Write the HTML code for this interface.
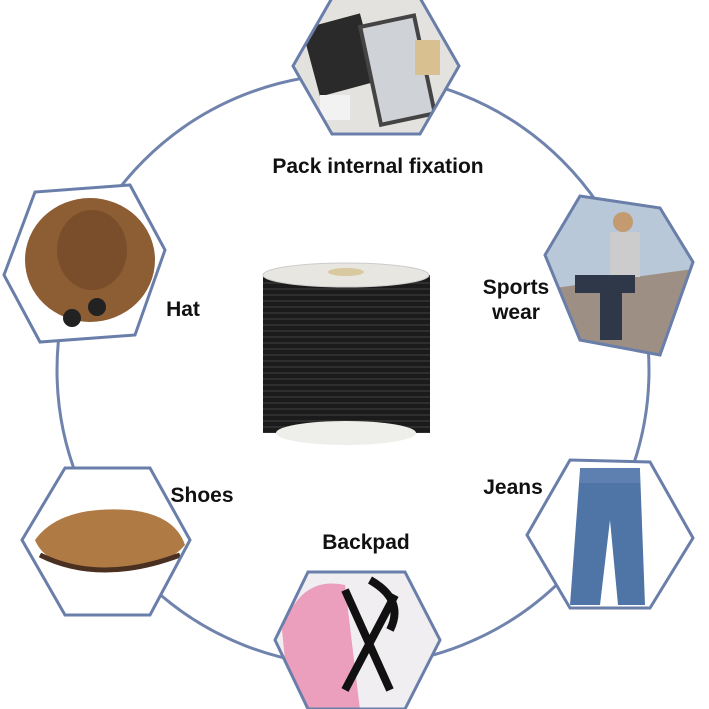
<!DOCTYPE html>
<html><head><meta charset="utf-8"><style>
html,body{margin:0;padding:0;background:#fff;}
svg{display:block}
text{font-family:"Liberation Sans",sans-serif;font-weight:bold;fill:#111;}
</style></head><body>
<svg width="709" height="709" viewBox="0 0 709 709" xmlns="http://www.w3.org/2000/svg">
<defs>
<pattern id="g" width="6" height="6" patternUnits="userSpaceOnUse"><rect width="6" height="2" fill="#555"/></pattern>
<clipPath id="c1"><polygon points="293,66 332,-2 420,-2 459,66 420,134 332,134"/></clipPath>
<clipPath id="c2"><polygon points="4,275 35,192 130,185 165,250 135,335 40,342"/></clipPath>
<clipPath id="c3"><polygon points="545,255 580,196 660,208 693,262 660,355 580,340"/></clipPath>
<clipPath id="c4"><polygon points="22,540 65,468 150,468 190,540 150,615 65,615"/></clipPath>
<clipPath id="c5"><polygon points="527,535 570,460 650,462 693,538 650,608 570,608"/></clipPath>
<clipPath id="c6"><polygon points="275,640 308,572 405,572 440,640 405,709 308,709"/></clipPath>
</defs>
<rect width="709" height="709" fill="#fff"/>
<circle cx="353" cy="370" r="296" fill="none" stroke="#7083ad" stroke-width="3"/>

<g clip-path="url(#c1)">
<rect x="280" y="-5" width="190" height="145" fill="#e4e2de"/>
<rect x="310" y="20" width="60" height="70" fill="#2a2a2a" transform="rotate(-15 340 55)"/>
<rect x="370" y="20" width="55" height="100" fill="#cfd2d6" stroke="#444" stroke-width="4" transform="rotate(-12 398 70)"/>
<rect x="415" y="40" width="25" height="35" fill="#d9c090"/>
<rect x="320" y="95" width="30" height="25" fill="#f2f2f2"/>
</g>
<polygon points="293,66 332,-2 420,-2 459,66 420,134 332,134" fill="none" stroke="#6a7eaa" stroke-width="3"/>

<g clip-path="url(#c2)">
<rect x="0" y="180" width="170" height="170" fill="#fff"/>
<ellipse cx="90" cy="260" rx="65" ry="62" fill="#8d5d34"/>
<ellipse cx="92" cy="250" rx="35" ry="40" fill="#7a4e2a"/>
<circle cx="72" cy="318" r="9" fill="#222"/><circle cx="97" cy="307" r="9" fill="#222"/>
</g>
<polygon points="4,275 35,192 130,185 165,250 135,335 40,342" fill="none" stroke="#6a7eaa" stroke-width="3"/>

<g clip-path="url(#c3)">
<rect x="540" y="190" width="160" height="170" fill="#b8c8d8"/>
<polygon points="540,290 700,268 700,360 540,360" fill="#9d8f84"/>
<rect x="610" y="232" width="30" height="45" fill="#ccc"/>
<rect x="575" y="275" width="60" height="18" fill="#2e3848"/>
<rect x="600" y="285" width="22" height="55" fill="#2e3848"/>
<circle cx="623" cy="222" r="10" fill="#c49a70"/>
</g>
<polygon points="545,255 580,196 660,208 693,262 660,355 580,340" fill="none" stroke="#6a7eaa" stroke-width="3"/>

<g clip-path="url(#c4)">
<rect x="20" y="465" width="175" height="155" fill="#fff"/>
<path d="M35,540 Q60,505 130,510 Q175,515 185,545 Q160,575 90,570 Q45,565 35,540Z" fill="#b07a45"/>
<path d="M40,555 Q100,585 180,555" stroke="#4a3020" stroke-width="5" fill="none"/>
</g>
<polygon points="22,540 65,468 150,468 190,540 150,615 65,615" fill="none" stroke="#6a7eaa" stroke-width="3"/>

<g clip-path="url(#c5)">
<rect x="525" y="455" width="170" height="160" fill="#fff"/>
<polygon points="580,470 640,470 645,605 618,605 610,520 600,605 570,605" fill="#4f74a6"/>
<rect x="580" y="468" width="60" height="15" fill="#5d80b0"/>
</g>
<polygon points="527,535 570,460 650,462 693,538 650,608 570,608" fill="none" stroke="#6a7eaa" stroke-width="3"/>

<g clip-path="url(#c6)">
<rect x="270" y="570" width="175" height="140" fill="#f0eef0"/>
<path d="M282,630 Q300,575 345,585 L360,710 L290,710Z" fill="#ec9fbd"/>
<path d="M345,590 L390,690 M395,595 L345,690 M370,580 Q405,600 390,630" stroke="#111" stroke-width="8" fill="none"/>
</g>
<polygon points="275,640 308,572 405,572 440,640 405,709 308,709" fill="none" stroke="#6a7eaa" stroke-width="3"/>

<rect x="263" y="275" width="167" height="158" fill="#1b1b1b"/>
<rect x="263" y="275" width="167" height="158" fill="url(#g)" opacity="0.35"/>
<ellipse cx="346" cy="275" rx="83" ry="12" fill="#e8e6e0" stroke="#ccc"/>
<ellipse cx="346" cy="272" rx="18" ry="4" fill="#d8c9a0"/>
<ellipse cx="346" cy="433" rx="70" ry="12" fill="#eeeeea"/>

<text x="378" y="173" font-size="21" text-anchor="middle">Pack internal fixation</text>
<text x="183" y="316" font-size="21" text-anchor="middle">Hat</text>
<text x="516" y="294" font-size="21" text-anchor="middle">Sports</text>
<text x="516" y="319" font-size="21" text-anchor="middle">wear</text>
<text x="202" y="502" font-size="21" text-anchor="middle">Shoes</text>
<text x="513" y="494" font-size="21" text-anchor="middle">Jeans</text>
<text x="366" y="549" font-size="21" text-anchor="middle">Backpad</text>
</svg>
</body></html>
